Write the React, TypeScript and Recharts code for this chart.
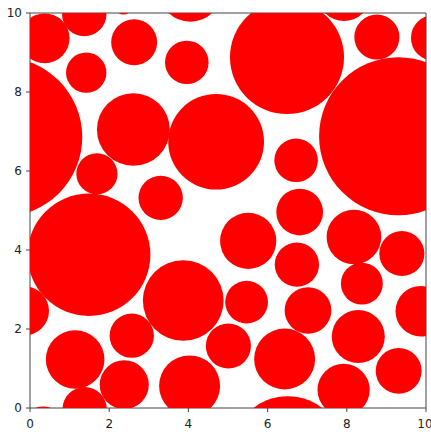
import { ScatterChart, Scatter, XAxis, YAxis, ReferenceLine } from 'recharts'

// circle centres and radii, all in data units
const xs = [
  0.37, 1.37, 2.63, 2.36, 4.05, 1.42, 3.96, -0.7, 2.61, 1.69, 3.3, 9.3, 6.49, 7.93,
  8.76, 10.2, 6.72, 4.7, 6.81, 5.51, 8.18, 9.39, 6.74, 8.38, 5.47, 7.02, 9.87, 8.29,
  6.43, 9.31, 7.92, 6.51, 5.01, 3.87, 4.03, 1.49, -0.14, 2.57, 1.14, 2.38, 1.38, 0.33,
]
const ys = [
  9.36, 9.97, 9.26, 10.19, 10.58, 8.49, 8.75, 6.86, 7.05, 5.93, 5.32, 6.88, 8.88, 10.47,
  9.39, 9.37, 6.27, 6.74, 4.96, 4.23, 4.33, 3.91, 3.63, 3.15, 2.68, 2.47, 2.45, 1.81,
  1.24, 0.94, 0.46, -1.1, 1.57, 2.72, 0.56, 3.88, 2.46, 1.83, 1.23, 0.59, -0.03, -0.44,
]
const rs = [
  0.63, 0.56, 0.58, 0.23, 0.8, 0.51, 0.55, 2.02, 0.92, 0.52, 0.56, 2.0, 1.44, 0.67,
  0.57, 0.58, 0.55, 1.21, 0.59, 0.71, 0.69, 0.57, 0.56, 0.53, 0.54, 0.59, 0.64, 0.67,
  0.77, 0.58, 0.66, 1.4, 0.57, 1.02, 0.77, 1.55, 0.62, 0.56, 0.74, 0.62, 0.56, 0.48,
]
const ticks = [0, 2, 4, 6, 8, 10]

const W = 431
const H = 432
const margin = { top: 13, right: 5, bottom: 0, left: 0 }
const yAxisW = 30
const xAxisH = 24
const plotW = W - margin.left - margin.right - yAxisW
const plotH = H - margin.top - margin.bottom - xAxisH
const pxX = plotW / 10
const pxY = plotH / 10

const circles = xs.map((x, i) => ({ x, y: ys[i], r: rs[i] }))

const spine = '#444'
const tickStyle = { fontSize: 12, fill: '#222', fontFamily: 'DejaVu Sans' }

const Disc = (props: any) => {
  const { cx, cy, payload } = props
  return <ellipse cx={cx} cy={cy} rx={payload.r * pxX} ry={payload.r * pxY} fill="#ff0000" />
}

export default function App() {
  return (
    <div style={{ position: 'absolute', left: 0, top: 0, background: '#fff' }}>
      <ScatterChart width={W} height={H} margin={margin}>
        <XAxis
          type="number"
          dataKey="x"
          domain={[0, 10]}
          ticks={ticks}
          allowDataOverflow
          height={xAxisH}
          tickSize={4}
          tickMargin={7}
          tick={tickStyle}
          stroke={spine}
        />
        <YAxis
          type="number"
          dataKey="y"
          domain={[0, 10]}
          ticks={ticks}
          allowDataOverflow
          width={yAxisW}
          tickSize={4}
          tickMargin={4}
          tick={tickStyle}
          stroke={spine}
        />
        <Scatter data={circles} shape={<Disc />} isAnimationActive={false} />
        <ReferenceLine y={10} stroke={spine} />
        <ReferenceLine x={10} stroke={spine} />
      </ScatterChart>
    </div>
  )
}
